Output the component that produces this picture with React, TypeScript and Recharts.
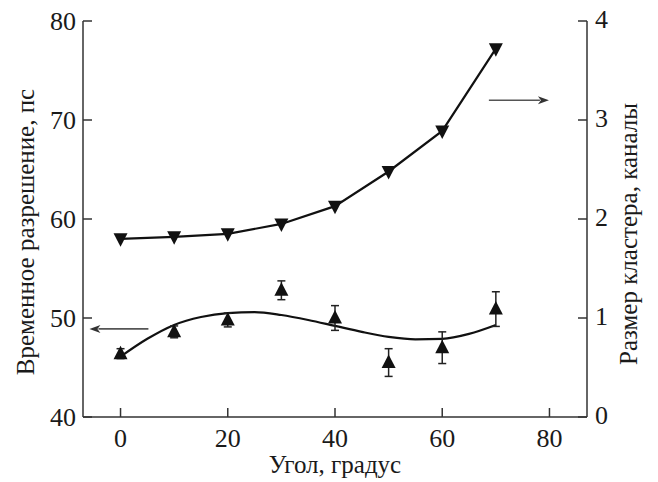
import React from "react";
import {
  ComposedChart,
  Line,
  Scatter,
  ErrorBar,
  XAxis,
  YAxis,
  ReferenceLine,
} from "recharts";

// Angle, degrees
const angles = [0, 10, 20, 30, 40, 50, 60, 70];
// Time resolution, ps (left axis)
const resolution = [46.4, 48.6, 49.8, 52.8, 50.0, 45.5, 47.0, 50.9];
const resolutionErr = [0.5, 0.6, 0.7, 0.95, 1.25, 1.4, 1.6, 1.75];
// Cluster size, channels (right axis)
const clusterSize = [1.8, 1.82, 1.85, 1.95, 2.13, 2.48, 2.89, 3.72];
// Fit curve through resolution points
const fitAngles = [0, 5, 10, 15, 20, 25, 30, 35, 40, 45, 50, 55, 60, 65, 70];
const fitValues = [46.1, 47.9, 49.3, 50.1, 50.5, 50.6, 50.3, 49.8, 49.2, 48.6, 48.1, 47.85, 47.9, 48.4, 49.3];

const xTicks = [0, 20, 40, 60, 80];
const leftTicks = [40, 50, 60, 70, 80];
const rightTicks = [0, 1, 2, 3, 4];

const xLabel = "Угол, градус";
const leftLabel = "Временное разрешение, пс";
const rightLabel = "Размер кластера, каналы";

const resData = angles.map((a, i) => ({ x: a, y: resolution[i], err: resolutionErr[i] }));
const clusterData = angles.map((a, i) => ({ x: a, c: clusterSize[i] }));
const fitData = fitAngles.map((a, i) => ({ x: a, f: fitValues[i] }));

const AXIS = "#333";
const TXT = "#1a1a1a";
const TICK_LEN = 9;

const LeftTick = (p: any) => (
  <g>
    <line x1={p.x} y1={p.y} x2={p.x + TICK_LEN} y2={p.y} stroke={AXIS} strokeWidth={1.5} />
    <text
      x={p.x - 7}
      y={p.y + 9}
      textAnchor="end"
      fontFamily="Liberation Serif"
      style={{ fontFamily: "Liberation Serif" }}
      fontSize={26}
      fill={TXT}
    >
      {String(p.payload.value)}
    </text>
  </g>
);

const RightTick = (p: any) => (
  <g>
    <line x1={p.x} y1={p.y} x2={p.x - TICK_LEN} y2={p.y} stroke={AXIS} strokeWidth={1.5} />
    <text
      x={p.x + 8}
      y={p.y + 7}
      textAnchor="start"
      fontFamily="Liberation Serif"
      style={{ fontFamily: "Liberation Serif" }}
      fontSize={26}
      fill={TXT}
    >
      {String(p.payload.value)}
    </text>
  </g>
);

const BottomTick = (p: any) => (
  <g>
    <line x1={p.x} y1={p.y} x2={p.x} y2={p.y - TICK_LEN} stroke={AXIS} strokeWidth={1.5} />
    <text
      x={p.x}
      y={p.y + 30}
      textAnchor="middle"
      fontFamily="Liberation Serif"
      style={{ fontFamily: "Liberation Serif" }}
      fontSize={26}
      fill={TXT}
    >
      {String(p.payload.value)}
    </text>
  </g>
);

const UpTriangle = (p: any) => {
  const { cx, cy } = p;
  if (cx == null || cy == null) return null;
  return <polygon points={`${cx},${cy - 8} ${cx - 7},${cy + 5.5} ${cx + 7},${cy + 5.5}`} fill="#111" />;
};

const DownTriangle = (p: any) => {
  const { cx, cy, index } = p;
  if (cx == null || cy == null) return null;
  return <polygon key={index} points={`${cx - 7},${cy - 5.5} ${cx + 7},${cy - 5.5} ${cx},${cy + 8}`} fill="#111" />;
};

const Arrow = (p: any) => {
  const { x1, y1, x2, y2 } = p;
  if (x1 == null) return null;
  const dir = x2 >= x1 ? 1 : -1;
  const hl = 11;
  const hw = 4;
  return (
    <g>
      <line x1={x1} y1={y1} x2={x2 - dir * (hl - 2)} y2={y2} stroke="#555" strokeWidth={1.6} />
      <polygon
        points={`${x2},${y2} ${x2 - dir * hl},${y2 - hw} ${x2 - dir * (hl - 3)},${y2} ${x2 - dir * hl},${y2 + hw}`}
        fill="#333"
      />
    </g>
  );
};

const LeftTitle = (p: any) => {
  const vb = p.viewBox || {};
  const cx = (vb.x ?? 0) + 34;
  const cy = (vb.y ?? 0) + (vb.height ?? 0) / 2 + 13;
  return (
    <text
      x={cx}
      y={cy}
      transform={`rotate(-90, ${cx}, ${cy})`}
      textAnchor="middle"
      fontFamily="Liberation Serif"
      style={{ fontFamily: "Liberation Serif" }}
      fontSize={25}
      fill={TXT}
    >
      {leftLabel}
    </text>
  );
};

const RightTitle = (p: any) => {
  const vb = p.viewBox || {};
  const cx = (vb.x ?? 0) + 50;
  const cy = (vb.y ?? 0) + (vb.height ?? 0) / 2 + 15;
  return (
    <text
      x={cx}
      y={cy}
      transform={`rotate(-90, ${cx}, ${cy})`}
      textAnchor="middle"
      fontFamily="Liberation Serif"
      style={{ fontFamily: "Liberation Serif" }}
      fontSize={25}
      fill={TXT}
    >
      {rightLabel}
    </text>
  );
};

const BottomTitle = (p: any) => {
  const vb = p.viewBox || {};
  const cx = (vb.x ?? 0) + (vb.width ?? 0) / 2;
  const cy = (vb.y ?? 0) + 56;
  return (
    <text
      x={cx}
      y={cy}
      textAnchor="middle"
      fontFamily="Liberation Serif"
      style={{ fontFamily: "Liberation Serif" }}
      fontSize={25}
      fill={TXT}
    >
      {xLabel}
    </text>
  );
};

export default function App() {
  return (
    <div style={{ position: "absolute", left: 0, top: 0, width: 658, height: 482, background: "#fff" }}>
      <ComposedChart width={658} height={482} margin={{ top: 21, right: 0, bottom: 0, left: 0 }}>
        <XAxis
          dataKey="x"
          type="number"
          domain={[-7, 87]}
          ticks={xTicks}
          allowDataOverflow
          height={65}
          tickSize={0}
          tickMargin={0}
          tickLine={false}
          tick={<BottomTick />}
          axisLine={{ stroke: AXIS, strokeWidth: 1.5 }}
          label={<BottomTitle />}
        />
        <YAxis
          yAxisId="left"
          orientation="left"
          type="number"
          domain={[40, 80]}
          ticks={leftTicks}
          allowDataOverflow
          width={83}
          tickSize={0}
          tickMargin={0}
          tickLine={false}
          tick={<LeftTick />}
          axisLine={{ stroke: AXIS, strokeWidth: 1.5 }}
          label={<LeftTitle />}
        />
        <YAxis
          yAxisId="right"
          orientation="right"
          type="number"
          domain={[0, 4]}
          ticks={rightTicks}
          allowDataOverflow
          width={71}
          tickSize={0}
          tickMargin={0}
          tickLine={false}
          tick={<RightTick />}
          axisLine={{ stroke: AXIS, strokeWidth: 1.5 }}
          label={<RightTitle />}
        />
        <Line
          yAxisId="left"
          data={fitData}
          dataKey="f"
          type="monotone"
          stroke="#111"
          strokeWidth={2.2}
          dot={false}
          activeDot={false}
          isAnimationActive={false}
        />
        <Line
          yAxisId="right"
          data={clusterData}
          dataKey="c"
          type="linear"
          stroke="#111"
          strokeWidth={2.2}
          dot={<DownTriangle />}
          activeDot={false}
          isAnimationActive={false}
        />
        <Scatter
          yAxisId="left"
          data={resData}
          dataKey="y"
          shape={<UpTriangle />}
          isAnimationActive={false}
        >
          <ErrorBar dataKey="err" direction="y" width={4} stroke="#222" strokeWidth={1.5} />
        </Scatter>
        <ReferenceLine
          yAxisId="left"
          segment={[{ x: 5.2, y: 48.9 }, { x: -5.8, y: 48.9 }]}
          shape={<Arrow />}
        />
        <ReferenceLine
          yAxisId="right"
          segment={[{ x: 68.7, y: 3.2 }, { x: 79.9, y: 3.2 }]}
          shape={<Arrow />}
        />
      </ComposedChart>
    </div>
  );
}
